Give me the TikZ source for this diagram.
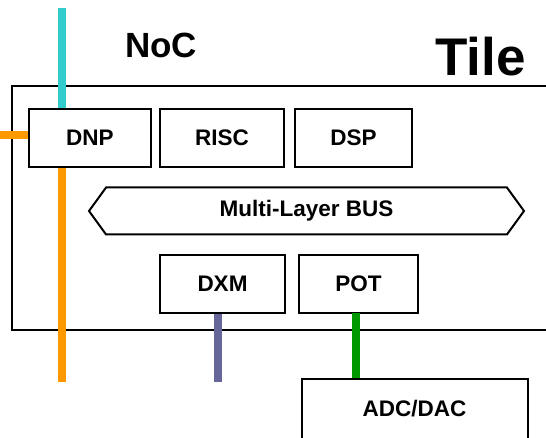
\documentclass[tikz,border=0pt]{standalone}
\usepackage{fontspec}
\setmainfont{Liberation Sans}
\usepackage{tikz}
\usetikzlibrary{shapes.symbols}
\definecolor{noccyan}{RGB}{51,204,204}
\definecolor{netorange}{RGB}{255,153,0}
\definecolor{memslate}{RGB}{102,102,153}
\definecolor{iogreen}{RGB}{0,153,0}

\begin{document}
\begin{tikzpicture}[
  x=1pt, y=-1pt,
  font=\fontsize{22.5}{26}\selectfont\bfseries,
  unit/.style={draw=black, line width=2pt, inner sep=0pt,
    minimum height=58pt},
  busbox/.style={draw=black, line width=2pt, shape=signal,
    signal to=west and east, signal pointer angle=108,
    minimum width=435pt, minimum height=47pt, inner sep=0pt},
  tilebox/.style={draw=black, line width=2.8pt, inner sep=0pt},
  title/.style={anchor=base west, inner sep=0pt},
  wire/.style={line width=8pt}
]
\useasboundingbox (0,0) rectangle (546,438);
\clip (0,0) rectangle (546,438);
% tile frame and titles
\node[tilebox, minimum width=548pt, minimum height=244pt] (tile) at (286,208) {};
\node[title, font=\fontsize{35}{40}\selectfont\bfseries] (noc) at (125,58) {NoC};
\node[title, font=\fontsize{53}{60}\selectfont\bfseries] (tilelbl) at (435,76) {Tile};
% processing units
\node[unit, minimum width=122pt] (dnp) at (90,137.6) {DNP};
\node[unit, minimum width=124pt] (risc) at (222,137.6) {RISC};
\node[unit, minimum width=117pt] (dsp) at (353.5,137.6) {DSP};
\node[busbox] (bus) at (306.5,211) {Multi-Layer BUS};
\node[unit, minimum width=125pt] (dxm) at (222.5,284) {DXM};
\node[unit, minimum width=119pt] (pot) at (358.5,284) {POT};
\node[unit, minimum width=226pt, minimum height=60pt, anchor=north] (adc) at (414.5,378) {ADC/DAC};
% links
\coordinate (nocend) at (61.5,8);
\coordinate (westend) at (0,135);
\coordinate (southend) at (61.5,382);
\coordinate (memend) at (217.7,382);
\coordinate (ioend) at (356,313);
\draw[wire, noccyan] (nocend) -- (nocend |- dnp.north);
\draw[wire, netorange] (westend) -- (westend -| dnp.west);
\draw[wire, netorange] (southend |- dnp.south) -- (southend);
\draw[wire, memslate] (memend |- dxm.south) -- (memend);
\draw[wire, iogreen] (ioend) -- (ioend |- adc.north);
\end{tikzpicture}
\end{document}
